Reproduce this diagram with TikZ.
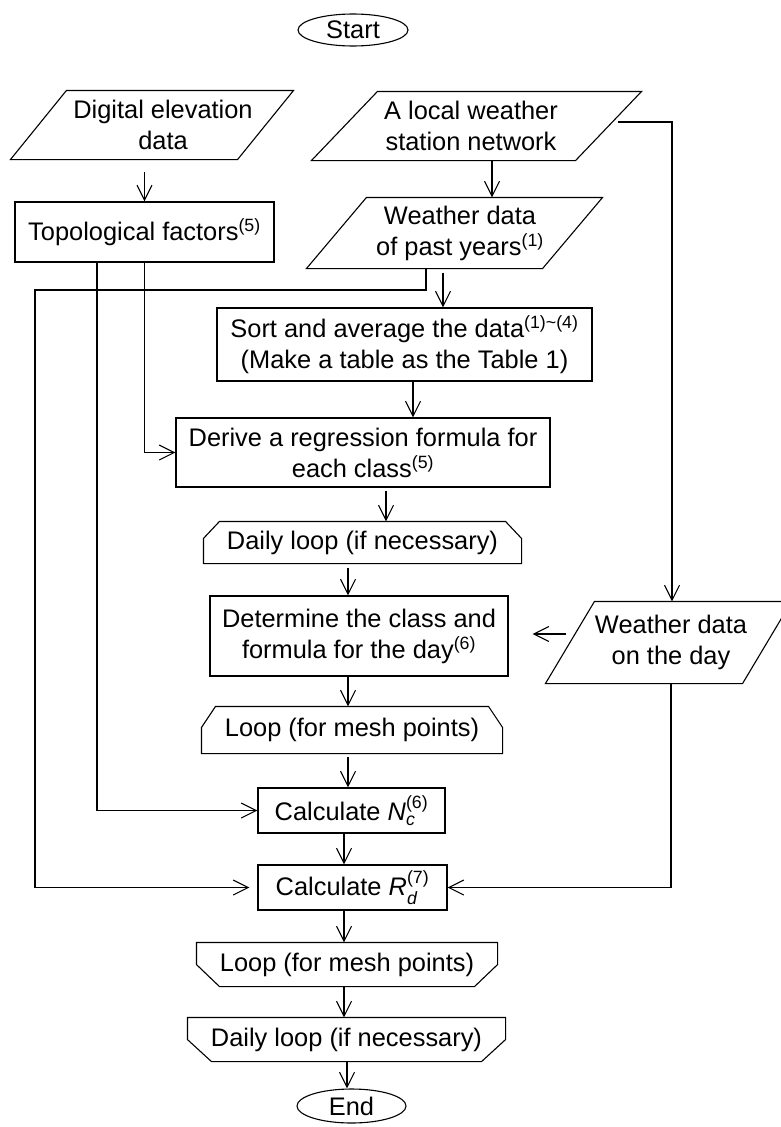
\documentclass[tikz,border=0pt]{standalone}
\usepackage{fontspec}
\setmainfont{Liberation Sans}
\usepackage{amsmath}
\usetikzlibrary{arrows.meta,calc,shapes.geometric}
\newcommand\paral[2]{\draw ([xshift=#2]#1.north west) -- (#1.north east) -- ([xshift=-#2]#1.south east) -- (#1.south west) -- cycle;}
\newcommand\looptop[3]{\draw (#1.south west) -- ([yshift=-#3]#1.north west) -- ([xshift=#2]#1.north west) -- ([xshift=-#2]#1.north east) -- ([yshift=-#3]#1.north east) -- (#1.south east) -- cycle;}
\newcommand\loopbot[3]{\draw (#1.north west) -- (#1.north east) -- ([yshift=#3]#1.south east) -- ([xshift=-#2]#1.south east) -- ([xshift=#2]#1.south west) -- ([yshift=#3]#1.south west) -- cycle;}
\begin{document}
\begin{tikzpicture}[x=1pt,y=-1pt, line width=1.1pt,
  font=\fontsize{25.4}{31}\selectfont,
  arr/.style={-{Straight Barb[length=15pt,width=15pt]}},
  box/.style={draw, rectangle, inner sep=0pt, align=center},
  blank/.style={rectangle, inner sep=0pt, align=center},
  txt/.style={inner sep=0pt, align=center},
  term/.style={draw, ellipse, inner sep=0pt},
]
\useasboundingbox (0,0) rectangle (781,1127);

% terminals
\node[term, minimum width=110pt, minimum height=32pt] (start) at (353,30) {Start};
\node[term, minimum width=109pt, minimum height=34pt] (end) at (351.5,1106) {End};

% input parallelograms
\node[blank, minimum width=282pt, minimum height=68pt] (de) at (152,125) {};
\paral{de}{56pt}
\node[txt] (detxt) at (163,125) {Digital elevation\\data};

\node[blank, minimum width=329pt, minimum height=68pt] (net) at (476.5,126) {};
\paral{net}{66pt}
\node[txt] (nettxt) at (471,126) {A local weather\\station network};

\node[blank, minimum width=295pt, minimum height=70pt] (past) at (454.5,233) {};
\paral{past}{60pt}
\node[txt] (pasttxt) at (460,233) {Weather data\\of past years\textsuperscript{(1)}};

\node[blank, minimum width=245pt, minimum height=81pt] (wday) at (668.5,642.5) {};
\paral{wday}{49pt}
\node[txt] (wdaytxt) at (671,642.5) {Weather data\\on the day};

% process boxes
\node[box, minimum width=259pt, minimum height=60pt] (topo) at (144.5,232) {Topological factors\textsuperscript{(5)}};
\node[box, minimum width=375pt, minimum height=73pt] (sort) at (404.5,344.5) {Sort and average the data\textsuperscript{(1)\textasciitilde(4)}\\(Make a table as the Table 1)};
\node[box, minimum width=374pt, minimum height=69pt] (derive) at (363,452.5) {Derive a regression formula for\\each class\textsuperscript{(5)}};
\node[box, minimum width=298pt, minimum height=80pt] (dtm) at (359,636) {Determine the class and\\formula for the day\textsuperscript{(6)}};
\node[box, minimum width=187pt, minimum height=45pt] (nc) at (351.5,810.5) {Calculate $\text{\itshape N}_{\text{\itshape c}}^{\text{(6)}}$};
\node[box, minimum width=189pt, minimum height=45pt] (rd) at (352.5,887.5) {Calculate $\text{\itshape R}_{\text{\itshape d}}^{\text{(7)}}$};

% loop limits
\node[blank, minimum width=317pt, minimum height=41pt] (daily1) at (362.5,542.5) {Daily loop (if necessary)};
\looptop{daily1}{16pt}{17pt}
\node[blank, minimum width=300pt, minimum height=46pt] (loop1) at (352,730) {Loop (for mesh points)};
\looptop{loop1}{14pt}{21pt}
\node[blank, minimum width=300pt, minimum height=43pt] (loop2) at (347,964.5) {Loop (for mesh points)};
\loopbot{loop2}{23pt}{22pt}
\node[blank, minimum width=317pt, minimum height=43pt] (daily2) at (346.5,1039.5) {Daily loop (if necessary)};
\loopbot{daily2}{24pt}{22pt}

% connectors
\draw[arr, shorten <=12pt] (topo.north |- de.south) -- (topo.north);
\draw[arr] ([xshift=15.5pt]net.south) -- ([xshift=15.5pt]net.south |- past.north);
\draw[arr] ([xshift=-24pt,yshift=4pt]net.east) -| ([xshift=3.5pt]wday.north);
\coordinate (lx) at (35,290);
\draw[arr, shorten >=8pt] ([xshift=-28.5pt]past.south) |- (lx) |- (rd.west);
\draw[arr, shorten <=4pt] ([xshift=-11.5pt]past.south) -- ([xshift=-11.5pt]past.south |- sort.north);
\draw[arr] ([xshift=8.5pt]sort.south) -- ([xshift=8.5pt]sort.south |- derive.north);
\draw[arr] (topo.south) |- (derive.west);
\draw[arr] ([xshift=-47.5pt]topo.south) |- (nc.west);
\draw[arr, shorten <=3pt] ([xshift=23pt]derive.south) -- ([xshift=23pt]derive.south |- daily1.north);
\draw[arr, shorten <=4pt] ([xshift=-14.5pt]daily1.south) -- ([xshift=-14.5pt]daily1.south |- dtm.north);
\draw[arr, shorten >=3pt] ([xshift=21pt,yshift=8.5pt]wday.west) -- ([xshift=21pt,yshift=8.5pt]wday.west -| dtm.east);
\draw[arr] ([xshift=-11pt]dtm.south) -- ([xshift=-11pt]dtm.south |- loop1.north);
\draw[arr, shorten <=3pt] ([xshift=-4pt]loop1.south) -- ([xshift=-4pt]loop1.south |- nc.north);
\draw[arr] ([xshift=-7.5pt]nc.south) -- ([xshift=-7.5pt]nc.south |- rd.north);
\draw[arr] ([xshift=2.5pt]wday.south) |- (rd.east);
\draw[arr] ([xshift=-8.5pt]rd.south) -- ([xshift=-8.5pt]rd.south |- loop2.north);
\draw[arr] ([xshift=-3pt]loop2.south) -- ([xshift=-3pt]loop2.south |- daily2.north);
\draw[arr] ([xshift=0.5pt]daily2.south) -- ([xshift=0.5pt]daily2.south |- end.north);
\end{tikzpicture}
\end{document}
